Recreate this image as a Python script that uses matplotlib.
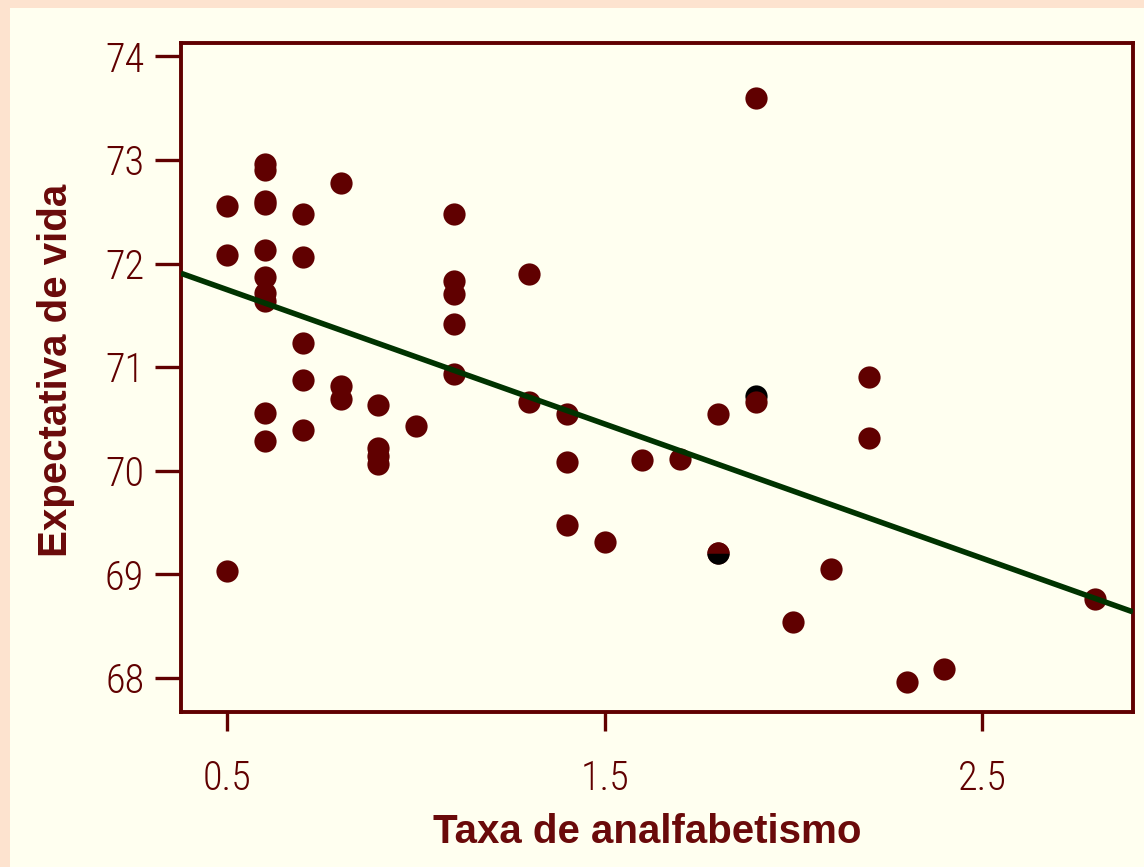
import numpy as np
import matplotlib
matplotlib.use("Agg")
import matplotlib.pyplot as plt
from matplotlib import font_manager as fm
from matplotlib.patches import Rectangle

# Data: illiteracy rate (%) vs life expectancy (years)
illiteracy = [2.1, 1.5, 1.8, 1.9, 1.1, 0.7, 1.1, 0.9, 1.3, 2.0,
              1.9, 0.6, 0.9, 0.7, 0.5, 0.6, 1.6, 2.8, 0.7, 0.9,
              1.1, 0.9, 0.6, 2.4, 0.8, 0.6, 0.6, 0.5, 0.7, 1.1,
              2.2, 1.4, 1.8, 0.8, 0.8, 1.1, 0.6, 1.0, 1.3, 2.3,
              0.5, 1.7, 2.2, 0.6, 0.6, 1.4, 0.6, 1.4, 0.7, 0.6]
life_exp = [69.05, 69.31, 70.55, 70.66, 71.71, 72.06, 72.48, 70.06, 70.66, 68.54,
            73.60, 71.87, 70.14, 70.88, 72.56, 72.58, 70.10, 68.76, 70.39, 70.22,
            71.83, 70.63, 72.96, 68.09, 70.69, 70.56, 72.60, 69.03, 71.23, 70.93,
            70.32, 70.55, 69.21, 72.78, 70.82, 71.42, 72.13, 70.43, 71.90, 67.96,
            72.08, 70.11, 70.90, 72.90, 71.64, 70.08, 71.72, 69.48, 72.48, 70.29]
# highlighted (partly black) points
hl_x = [1.8]
hl_y = [69.21]
shadow_x = [1.9]
shadow_y = [70.72]

x_ticks = [0.5, 1.5, 2.5]
x_ticklabels = ["0.5", "1.5", "2.5"]
y_ticks = [68, 69, 70, 71, 72, 73, 74]
x_label = "Taxa de analfabetismo"
y_label = "Expectativa de vida"

DARK_RED = "#600000"
GREEN = "#003300"
IVORY = "#FFFFF0"
PEACH = "#FDE3CF"


def pick(fams):
    for f in fams:
        try:
            fm.findfont(fm.FontProperties(family=f), fallback_to_default=False)
            return f
        except Exception:
            pass
    return "DejaVu Sans"


tick_font = pick(["Liberation Sans Narrow", "Roboto Condensed", "Liberation Sans"])
label_font = pick(["Liberation Sans", "Arial", "DejaVu Sans"])

W, H = 1144, 867
fig = plt.figure(figsize=(W / 100, H / 100), dpi=100)
fig.patch.set_facecolor(PEACH)
bg = Rectangle((10 / W, 0), 1, (H - 8) / H, transform=fig.transFigure,
               facecolor=IVORY, edgecolor="none", zorder=-10)
fig.add_artist(bg)

ax = fig.add_axes([181 / W, (H - 712) / H, (1133 - 181) / W, (712 - 43) / H])
ax.set_zorder(5)
ax.set_facecolor(IVORY)
ax.set_xlim(0.377, 2.90)
ax.set_ylim(67.67, 74.13)

MS = 16
# shadow point (black, under)
ax.plot(shadow_x, shadow_y, "o", ms=MS, color="black", mec="none", zorder=2)
ax.plot(illiteracy, life_exp, "o", ms=MS, color=DARK_RED, mec="none", zorder=3)
ax.plot(hl_x, hl_y, "o", ms=MS, fillstyle="bottom", markerfacecolor="black",
        markerfacecoloralt=DARK_RED, mec="none", zorder=4)

# regression line
slope, intercept = np.polyfit(illiteracy, life_exp, 1)
xs = np.array(ax.get_xlim())
ax.plot(xs, intercept + slope * xs, color=GREEN, lw=4.0, zorder=5,
        solid_capstyle="butt")

for s in ax.spines.values():
    s.set_color(DARK_RED)
    s.set_linewidth(2.8)

ax.set_xticks(x_ticks)
ax.set_xticklabels(x_ticklabels)
ax.set_yticks(y_ticks)
ax.set_yticklabels([str(v) for v in y_ticks])
ax.tick_params(axis="y", length=18.5, width=2.4, color=DARK_RED, pad=8,
               labelsize=29, labelcolor=DARK_RED)
ax.tick_params(axis="x", length=13.5, width=2.4, color=DARK_RED, pad=21,
               labelsize=29, labelcolor=DARK_RED)
for lab in ax.get_xticklabels() + ax.get_yticklabels():
    lab.set_fontfamily(tick_font)
    lab.set_fontweight("light")

fig.text(647 / W, 1 - 832 / H, x_label, ha="center", va="center",
         fontsize=29, fontweight="bold", color="#6A0A0A", family=label_font)
fig.text(56 / W, 1 - 370 / H, y_label, ha="center", va="center", rotation=90,
         fontsize=29, fontweight="bold", color="#6A0A0A", family=label_font)

fig.savefig("out.png", dpi=100, facecolor=fig.get_facecolor())
